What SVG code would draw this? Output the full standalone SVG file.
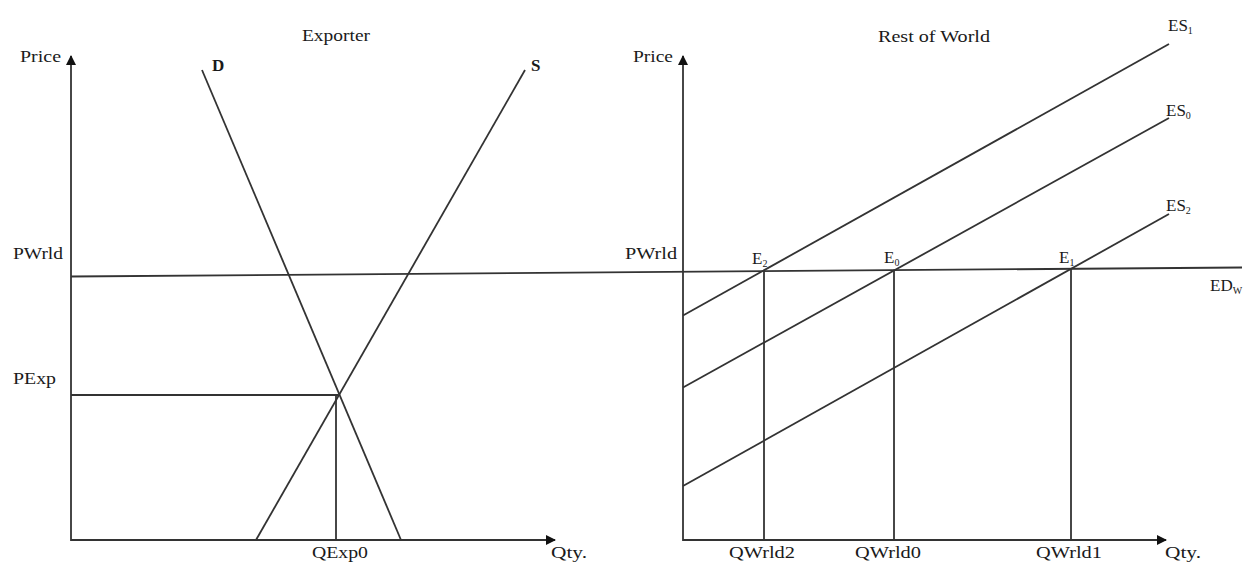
<svg xmlns="http://www.w3.org/2000/svg" width="1250" height="565" viewBox="0 0 1250 565">
<defs>
<style>
.ln{stroke:#333;stroke-width:1.8;fill:none}
.t{font-family:"Liberation Serif","Times New Roman",serif;font-size:16px;fill:#1a1a1a}
.b{font-size:17px}
.s{font-size:10px}
</style>
<marker id="ah" viewBox="0 0 10 10" refX="9" refY="5" markerWidth="10" markerHeight="10" markerUnits="userSpaceOnUse" orient="auto">
<path d="M0,0 L10,5 L0,10 Z" fill="#111"/>
</marker>
</defs>
<rect width="1250" height="565" fill="#fff"/>
<g id="connectors">
<line id="left-yaxis" class="ln" x1="71" y1="541" x2="71" y2="56" marker-end="url(#ah)"/>
<line id="left-xaxis" class="ln" x1="71" y1="540" x2="555" y2="540" marker-end="url(#ah)"/>
<line id="right-yaxis" class="ln" x1="683" y1="541" x2="683" y2="56" marker-end="url(#ah)"/>
<line id="right-xaxis" class="ln" x1="683" y1="540" x2="1166" y2="540" marker-end="url(#ah)"/>
<line id="demand" class="ln" x1="202" y1="70" x2="401" y2="540"/>
<line id="supply" class="ln" x1="525" y1="70" x2="256" y2="540"/>
<line id="pexp" class="ln" x1="71" y1="395" x2="338.5" y2="395"/>
<line id="qexp0" class="ln" x1="336" y1="395" x2="336" y2="540"/>
<line id="pwrld" class="ln" x1="71" y1="276.5" x2="1242" y2="267.5"/>
<line id="es1" class="ln" x1="683" y1="315.5" x2="1169" y2="44"/>
<line id="es0" class="ln" x1="683" y1="387.5" x2="1169" y2="118"/>
<line id="es2" class="ln" x1="683" y1="486" x2="1169" y2="214"/>
<line id="qwrld2" class="ln" x1="764" y1="271" x2="764" y2="540"/>
<line id="qwrld0" class="ln" x1="894" y1="269.7" x2="894" y2="540"/>
<line id="qwrld1" class="ln" x1="1071" y1="268.3" x2="1071" y2="540"/>
</g>
<g id="left-panel">
<text class="t" x="20" y="62" textLength="41" lengthAdjust="spacingAndGlyphs">Price</text>
<text class="t" x="302" y="41" textLength="68" lengthAdjust="spacingAndGlyphs">Exporter</text>
<text class="t b" x="212" y="71" font-weight="bold">D</text>
<text class="t b" x="531" y="71" font-weight="bold">S</text>
<text class="t" x="13" y="259" textLength="50" lengthAdjust="spacingAndGlyphs">PWrld</text>
<text class="t" x="13" y="384" textLength="43" lengthAdjust="spacingAndGlyphs">PExp</text>
<text class="t" x="312" y="558" textLength="56" lengthAdjust="spacingAndGlyphs">QExp0</text>
<text class="t" x="551" y="558" textLength="36" lengthAdjust="spacingAndGlyphs">Qty.</text>
</g>
<g id="right-panel">
<text class="t" x="633" y="62" textLength="40" lengthAdjust="spacingAndGlyphs">Price</text>
<text class="t" x="878" y="42" textLength="112" lengthAdjust="spacingAndGlyphs">Rest of World</text>
<text class="t" x="625" y="259" textLength="52" lengthAdjust="spacingAndGlyphs">PWrld</text>
<text class="t b" x="1168" y="31">ES<tspan class="s" dy="3">1</tspan></text>
<text class="t b" x="1166" y="116">ES<tspan class="s" dy="3">0</tspan></text>
<text class="t b" x="1166" y="211">ES<tspan class="s" dy="3">2</tspan></text>
<text class="t b" x="1210" y="291">ED<tspan class="s" dy="3">W</tspan></text>
<text class="t b" x="752" y="264">E<tspan class="s" dy="3">2</tspan></text>
<text class="t b" x="884" y="263">E<tspan class="s" dy="3">0</tspan></text>
<text class="t b" x="1059" y="263">E<tspan class="s" dy="3">1</tspan></text>
<text class="t" x="729" y="558" textLength="66" lengthAdjust="spacingAndGlyphs">QWrld2</text>
<text class="t" x="855" y="558" textLength="66" lengthAdjust="spacingAndGlyphs">QWrld0</text>
<text class="t" x="1036" y="558" textLength="66" lengthAdjust="spacingAndGlyphs">QWrld1</text>
<text class="t" x="1165" y="558" textLength="36" lengthAdjust="spacingAndGlyphs">Qty.</text>
</g>
</svg>
